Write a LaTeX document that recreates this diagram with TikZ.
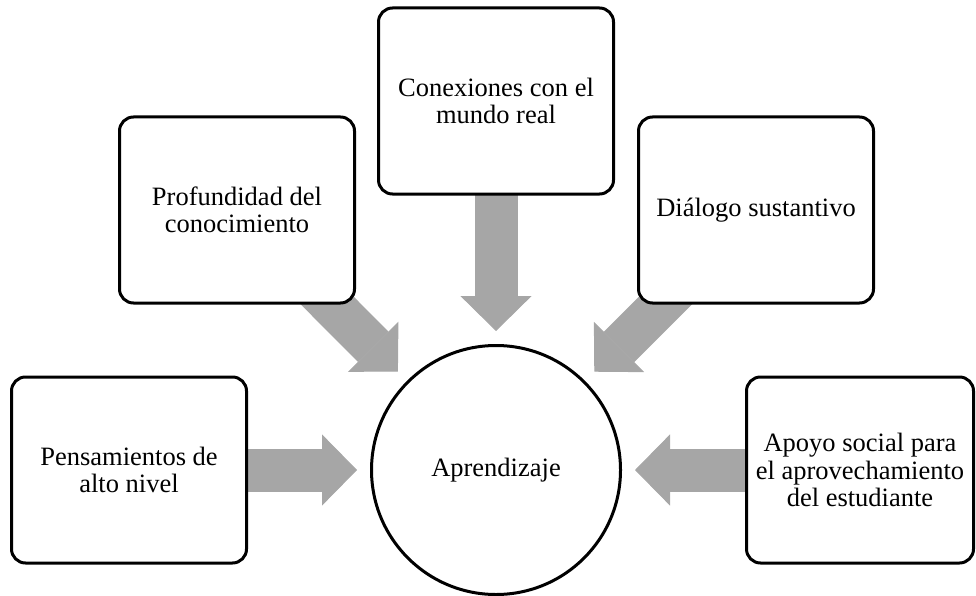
\documentclass[tikz,border=0pt]{standalone}
\usepackage{fontspec}
\setmainfont{Liberation Serif}
\usetikzlibrary{arrows.meta}
\definecolor{grisflecha}{HTML}{A6A6A6}
\tikzstyle{idea} = [rectangle, rounded corners=14pt, minimum width=235pt, minimum height=186pt, align=center, text centered, draw=black, line width=3pt, fill=white, font=\fontsize{26.5}{27.5}\selectfont]
\tikzstyle{centro} = [circle, minimum size=249pt, draw=black, line width=3pt, fill=white, font=\fontsize{26.5}{27.5}\selectfont]
\tikzstyle{flecha} = [draw=grisflecha, line width=43pt, -{Triangle[length=35pt, width=71pt, line width=1pt]}, shorten >=13pt]
\pgfdeclarelayer{fondo}
\pgfsetlayers{fondo,main}

\begin{document}
\begin{tikzpicture}[x=1pt, y=-1pt]
				\useasboundingbox (0,0) rectangle (976,596);
				\node (aprendizaje) [centro] at (496,470) {Aprendizaje};
				\node (conexiones) [idea] at (496,101) {Conexiones con el\\mundo real};
				\node (profundidad) [idea] at (237,210) {Profundidad del\\conocimiento};
				\node (dialogo) [idea] at (756,210) {Diálogo sustantivo};
				\node (pensamientos) [idea] at (129,470) {Pensamientos de\\alto nivel};
				\node (apoyo) [idea, minimum width=227pt] at (860,470) {Apoyo social para\\el aprovechamiento\\del estudiante};
				\begin{pgfonlayer}{fondo}
				\draw [flecha] (pensamientos.center) -- (aprendizaje);
				\draw [flecha] (profundidad.center) -- (aprendizaje);
				\draw [flecha] (conexiones.center) -- (aprendizaje);
				\draw [flecha] (dialogo.center) -- (aprendizaje);
				\draw [flecha] (apoyo.center) -- (aprendizaje);
				\end{pgfonlayer}
			\end{tikzpicture}
\end{document}
